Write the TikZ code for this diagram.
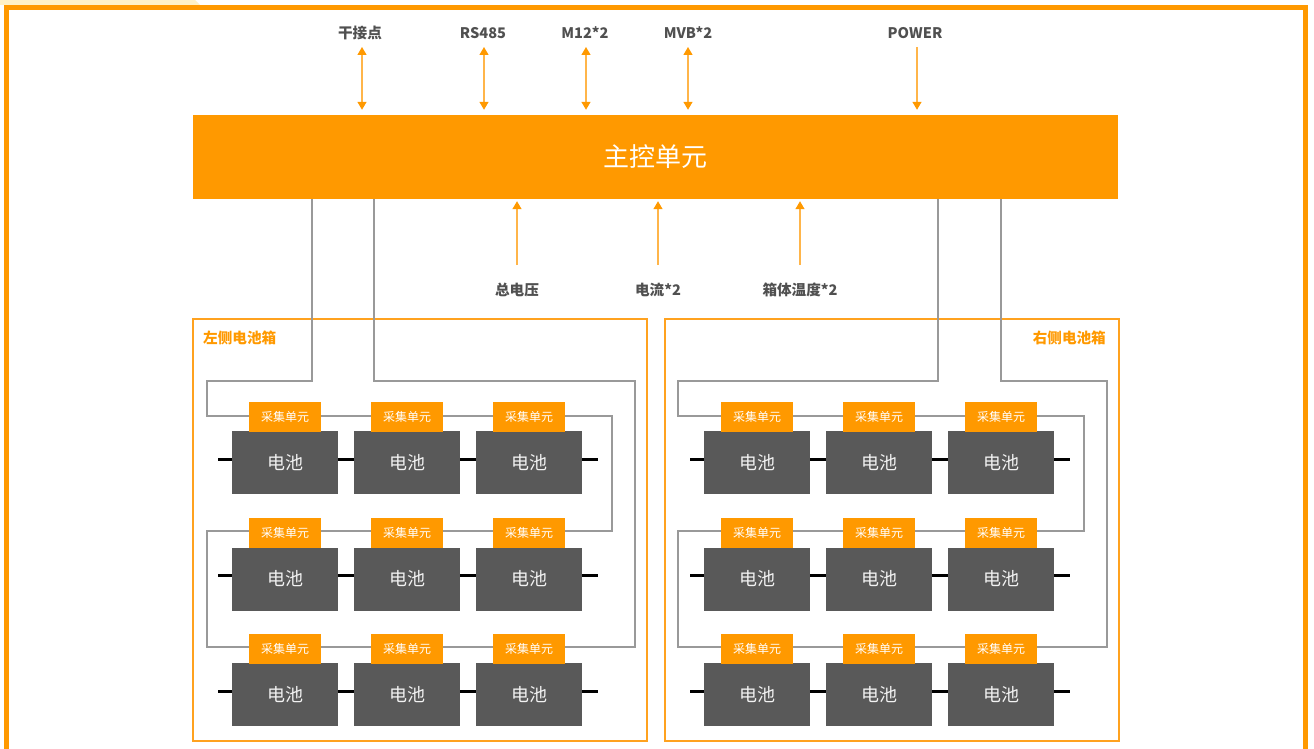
\documentclass[tikz,border=0pt]{standalone}
\usepackage{fontspec}
\setmainfont{Noto Sans CJK SC}
\newfontfamily\cjk{Noto Sans CJK SC}
\usetikzlibrary{arrows.meta}
\definecolor{orange1}{HTML}{FF9900}
\definecolor{arrline}{HTML}{FFB54A}
\definecolor{boxline}{HTML}{FFA21F}
\definecolor{labelgray}{HTML}{505050}
\definecolor{batgray}{HTML}{595959}
\definecolor{battext}{HTML}{F2F2F2}
\definecolor{wiregray}{HTML}{999999}
\definecolor{paleyellow}{HTML}{FFF1C6}
\tikzset{
  lbl/.style={font=\cjk\bfseries\fontsize{14.6}{16}\selectfont, text=labelgray, inner sep=0pt},
  boxlbl/.style={font=\cjk\bfseries\fontsize{14.6}{16}\selectfont, text=orange1, inner sep=0pt},
  mainunit/.style={fill=orange1, minimum width=925pt, minimum height=84pt, inner sep=0pt, text=white, font=\cjk\fontsize{26}{30}\selectfont},
  battery/.style={fill=batgray, minimum width=106pt, minimum height=63pt, inner sep=0pt, text=battext, font=\cjk\fontsize{18}{20}\selectfont},
  collector/.style={fill=orange1, minimum width=72pt, minimum height=30pt, inner sep=0pt, text=white, font=\cjk\fontsize{12}{14}\selectfont},
  packbox/.style={draw=boxline, line width=1.5pt, fill=none, inner sep=0pt},
  wire/.style={draw=wiregray, line width=1.2pt},
  bus/.style={draw=black, line width=3pt},
  sig/.style={draw=arrline, line width=1.3pt},
  tip/.style={-{Triangle[width=9pt,length=8pt,color=orange1]}},
  bitip/.style={{Triangle[width=9pt,length=8pt,color=orange1]}-{Triangle[width=9pt,length=8pt,color=orange1]}},
}
\begin{document}
\begin{tikzpicture}[x=1pt,y=-1pt]
\useasboundingbox (0,0) rectangle (1314,749);
\clip (0,0) rectangle (1314,749);
% background tab and frame
\fill[paleyellow] (0,0) -- (195,0) -- (200,5) -- (0,5) -- cycle;
\draw[orange1, line width=5pt] (6.5,7.5) rectangle (1305.5,770);

% main unit
\node[mainunit] (main) at (655.5,157) {主控单元};

% top labels and arrows
\node[lbl] (t1) at (360,33) {干接点};
\node[lbl] (t2) at (483,33) {RS485};
\node[lbl] (t3) at (585,33) {M12*2};
\node[lbl] (t4) at (688,33) {MVB*2};
\node[lbl] (t5) at (915,33) {POWER};
\coordinate (a1) at (362,47);
\coordinate (a2) at (484,47);
\coordinate (a3) at (586,47);
\coordinate (a4) at (688,47);
\coordinate (a5) at (917,47);
\foreach \i in {1,2,3,4}{
  \draw[sig,bitip,shorten >=5pt] (a\i) -- (a\i |- main.north);
}
\draw[sig,tip,shorten >=5pt] (a5) -- (a5 |- main.north);

% bottom labels and arrows
\node[lbl] (m1) at (517,290) {总电压};
\node[lbl] (m2) at (658,290) {电流*2};
\node[lbl] (m3) at (800,290) {箱体温度*2};
\coordinate (b1) at (517,265);
\coordinate (b2) at (658,265);
\coordinate (b3) at (800,265);
\foreach \i in {1,2,3}{
  \draw[sig,tip,shorten >=2pt] (b\i) -- (b\i |- main.south);
}

% battery boxes
\node[packbox, minimum width=454pt, minimum height=422pt] (leftbox) at (420,530) {};
\node[packbox, minimum width=454pt, minimum height=422pt] (rightbox) at (892,530) {};
\node[boxlbl, anchor=west] (ll) at (203,338) {左侧电池箱};
\node[boxlbl, anchor=east] (rl) at (1106,338) {右侧电池箱};

% wiring loops (behind collectors)
\draw[wire] (main.south -| 312,0) -- (312,381) -- (207,381) -- (207,416) -- (612,416) -- (612,531)
  -- (207,531) -- (207,647) -- (635,647) -- (635,381) -- (374,381) -- (main.south -| 374,0);
\draw[wire] (main.south -| 938,0) -- (938,381) -- (678,381) -- (678,416) -- (1084,416) -- (1084,531)
  -- (678,531) -- (678,647) -- (1107,647) -- (1107,381) -- (1001,381) -- (main.south -| 1001,0);

% bus bars
\foreach \r/\y in {1/459,2/575,3/691}{
  \coordinate (busLa\r) at (218,\y);
  \coordinate (busLb\r) at (598,\y);
  \coordinate (busRa\r) at (690,\y);
  \coordinate (busRb\r) at (1070,\y);
  \draw[bus] (busLa\r) -- (busLb\r);
  \draw[bus] (busRa\r) -- (busRb\r);
}

% batteries and collectors
\foreach \r/\by/\cy in {1/462.5/417,2/579/533,3/694.5/649}{
  \foreach \c/\lx/\rx in {1/285/757,2/407/879,3/529/1001}{
    \node[battery] (bl\r\c) at (\lx,\by) {电池};
    \node[collector] (cl\r\c) at (\lx,\cy) {采集单元};
    \node[battery] (br\r\c) at (\rx,\by) {电池};
    \node[collector] (cr\r\c) at (\rx,\cy) {采集单元};
  }
}
\end{tikzpicture}
\end{document}
